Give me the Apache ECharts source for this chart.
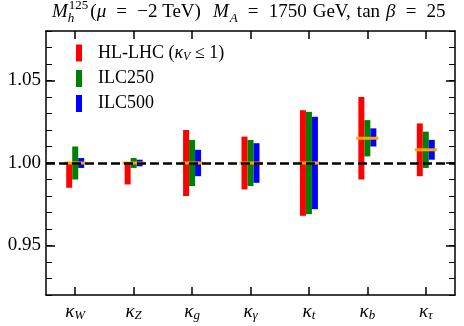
<!DOCTYPE html>
<html>
<head>
<meta charset="utf-8">
<script src="https://cdn.jsdelivr.net/npm/echarts@6/dist/echarts.min.js"></script>
<style>
  html, body { margin: 0; padding: 0; background: #fff; }
  #chart { width: 464px; height: 326px; }
</style>
</head>
<body>
<div id="chart"></div>
<script>
  // subscripts of the kappa couplings
  var categories = ['W', 'Z', 'g', 'γ', 't', 'b', 'τ']
  var seriesNames = ['HL-LHC', 'ILC250', 'ILC500']
  var hlLow = [0.985, 0.987, 0.980, 0.984, 0.968, 0.990, 0.992]
  var hlHigh = [1.000, 1.000, 1.020, 1.016, 1.032, 1.040, 1.024]
  var ilc250Low = [0.990, 0.997, 0.986, 0.986, 0.969, 1.004, 0.997]
  var ilc250High = [1.010, 1.003, 1.014, 1.014, 1.031, 1.026, 1.019]
  var ilc500Low = [0.997, 0.998, 0.992, 0.988, 0.972, 1.010, 1.002]
  var ilc500High = [1.003, 1.002, 1.008, 1.012, 1.028, 1.021, 1.014]
  var central = [1.000, 1.000, 1.000, 1.000, 1.000, 1.015, 1.008]
  var majorTicks = [0.95, 1.00, 1.05]
  var catTicks = categories.map(function (c, i) { return i })

  var serif = '"Liberation Serif", "DejaVu Serif", serif'

  function rangeData(lows, highs) {
    return categories.map(function (c, i) { return [i, lows[i], highs[i]] })
  }

  function rangeBar(offset) {
    return function (params, api) {
      var top = api.coord([api.value(0), api.value(2)])
      var bot = api.coord([api.value(0), api.value(1)])
      return {
        type: 'rect',
        shape: {x: top[0] + offset - 3, y: top[1], width: 6, height: bot[1] - top[1]},
        style: {fill: api.visual('color')}
      }
    }
  }

  function txt(extra) {
    var s = {fontFamily: serif, fontSize: 19, fontWeight: 'normal', color: '#000', lineHeight: 26}
    for (var k in extra) s[k] = extra[k]
    return s
  }

  function frame(extra) {
    var a = {
      axisLine: {show: true, onZero: false, lineStyle: {color: '#000', width: 1.5}},
      splitLine: {show: false}
    }
    for (var k in extra) a[k] = extra[k]
    return a
  }

  var chart = echarts.init(document.getElementById('chart'))

  function draw() {
    chart.setOption({
      animation: false,
      title: {
        text: '{i|M}{h|h}{sup|125}{n|(}{i|μ}{eq|=}{n|−2 TeV)}{gap| }' +
          '{i|M}{sub|A}{eq|=}{n|1750}{sp| }{n|GeV,}{sp| }{n|tan}{sp| }{i|β}{eq|=}{n|25}',
        left: 52,
        top: -1,
        padding: 0,
        textStyle: {
          fontWeight: 'normal',
          fontFamily: serif,
          rich: {
            n: txt({}),
            i: txt({fontStyle: 'italic'}),
            eq: txt({width: 31, align: 'center'}),
            gap: txt({width: 12}),
            sp: txt({width: 6}),
            h: txt({fontSize: 13, fontStyle: 'italic', verticalAlign: 'bottom', padding: [10, 0, 0, 0], width: 1}),
            sub: txt({fontSize: 13, fontStyle: 'italic', verticalAlign: 'bottom', padding: [10, 0, 0, 1]}),
            sup: txt({fontSize: 13, verticalAlign: 'top', lineHeight: 16, padding: [0, 2, 0, 0]})
          }
        }
      },
      legend: {
        orient: 'vertical',
        left: 76,
        top: 44,
        padding: 0,
        icon: 'rect',
        itemWidth: 6,
        itemHeight: 17,
        itemGap: 7,
        data: seriesNames,
        formatter: function (name) {
          if (name === 'HL-LHC') return '{n|HL-LHC (}{i|κ}{s|V}{n| ≤ 1)}'
          return '{n|' + name + '}'
        },
        textStyle: {
          padding: [0, 0, 0, 11],
          fontFamily: serif,
          rich: {
            n: {fontFamily: serif, fontSize: 18, color: '#000'},
            i: {fontFamily: serif, fontSize: 18, fontStyle: 'italic', color: '#000'},
            s: {fontFamily: serif, fontSize: 12, fontStyle: 'italic', color: '#000', verticalAlign: 'bottom', padding: [7, 0, 0, 0]}
          }
        }
      },
      grid: {left: 46, right: 9, top: 31, bottom: 31},
      xAxis: [
        frame({
          type: 'value', position: 'bottom', min: -0.5, max: 6.5,
          axisTick: {show: true, inside: true, length: 8, customValues: catTicks, lineStyle: {color: '#000', width: 1.5}},
          axisLabel: {
            customValues: catTicks,
            margin: 6,
            fontFamily: serif,
            formatter: function (v) { return '{k|κ}{s|' + categories[Math.round(v)] + '}' },
            rich: {
              k: {fontFamily: serif, fontSize: 19, fontStyle: 'italic', color: '#000'},
              s: {fontFamily: serif, fontSize: 13, fontStyle: 'italic', color: '#000', verticalAlign: 'bottom', padding: [8, 0, 0, 0]}
            }
          }
        }),
        frame({
          type: 'value', position: 'top', min: -0.5, max: 6.5,
          axisTick: {show: true, inside: true, length: 8, customValues: catTicks, lineStyle: {color: '#000', width: 1.5}},
          axisLabel: {show: false}
        })
      ],
      yAxis: [
        frame({
          type: 'value', position: 'left', min: 0.92, max: 1.08, interval: 0.01,
          axisTick: {show: true, inside: true, length: 6, lineStyle: {color: '#000', width: 1}},
          axisLabel: {show: false}
        }),
        frame({
          type: 'value', position: 'left', min: 0.92, max: 1.08,
          axisLine: {show: false, onZero: false},
          axisTick: {show: true, inside: true, length: 9, customValues: majorTicks, lineStyle: {color: '#000', width: 1.5}},
          axisLabel: {
            customValues: majorTicks, margin: 5,
            fontFamily: serif, fontSize: 19, color: '#000',
            formatter: function (v) { return v.toFixed(2) }
          }
        }),
        frame({
          type: 'value', position: 'right', min: 0.92, max: 1.08, interval: 0.01,
          axisTick: {show: true, inside: true, length: 6, lineStyle: {color: '#000', width: 1}},
          axisLabel: {show: false}
        }),
        frame({
          type: 'value', position: 'right', min: 0.92, max: 1.08,
          axisLine: {show: false, onZero: false},
          axisTick: {show: true, inside: true, length: 9, customValues: majorTicks, lineStyle: {color: '#000', width: 1.5}},
          axisLabel: {show: false}
        })
      ],
      series: [
        {
          name: 'baseline',
          type: 'custom',
          z: 1,
          data: [],
          renderItem: function () { return null },
          markLine: {
            silent: true,
            symbol: 'none',
            label: {show: false},
            lineStyle: {color: '#000', width: 2.5, type: [9, 4]},
            data: [{yAxis: 1.0}]
          }
        },
        {
          name: 'HL-LHC', type: 'custom', z: 2, color: '#ff0000',
          data: rangeData(hlLow, hlHigh), renderItem: rangeBar(-6)
        },
        {
          name: 'ILC250', type: 'custom', z: 2, color: '#008000',
          data: rangeData(ilc250Low, ilc250High), renderItem: rangeBar(0)
        },
        {
          name: 'ILC500', type: 'custom', z: 2, color: '#0000ff',
          data: rangeData(ilc500Low, ilc500High), renderItem: rangeBar(6)
        },
        {
          name: 'central', type: 'custom', z: 3, color: '#ffa500',
          data: categories.map(function (c, i) { return [i, central[i]] }),
          renderItem: function (params, api) {
            var p = api.coord([api.value(0), api.value(1)])
            return {
              type: 'rect',
              shape: {x: p[0] - 11, y: p[1] - 1.5, width: 22, height: 3},
              style: {fill: api.visual('color')}
            }
          }
        }
      ]
    }, true)
  }

  draw()
  if (document.fonts && document.fonts.load) {
    Promise.all([
      document.fonts.load('18px "Liberation Serif"'),
      document.fonts.load('italic 18px "Liberation Serif"')
    ]).then(draw, draw)
  }
</script>
</body>
</html>
